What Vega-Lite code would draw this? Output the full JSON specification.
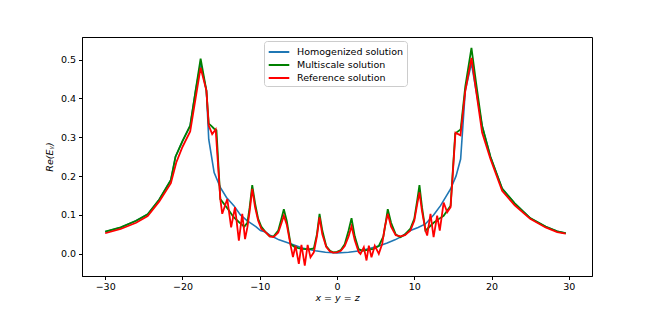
{
  "$schema": "https://vega.github.io/schema/vega-lite/v6.json",
  "width": 510,
  "height": 239,
  "autosize": {"type": "none"},
  "padding": {"left": 82, "top": 37, "right": 62, "bottom": 35},
  "background": "white",
  "config": {
    "view": {"stroke": "black", "strokeWidth": 1},
    "font": "DejaVu Sans",
    "axis": {"grid": false, "domainColor": "black", "tickColor": "black", "tickSize": 3.5, "labelFontSize": 9.5, "labelColor": "black", "titleFontSize": 9.5, "titleFontWeight": "normal", "titleColor": "black", "labelFont": "DejaVu Sans", "titleFont": "DejaVu Sans"}
  },
  "datasets": {
    "H": [[-30,0.057],[-28,0.068],[-26,0.085],[-24.5,0.102],[-23,0.14],[-21.5,0.19],[-20.9,0.25],[-20,0.29],[-19,0.33],[-18.3,0.42],[-17.65,0.49],[-16.9,0.42],[-16.6,0.295],[-15.9,0.209],[-15.1,0.171],[-14.3,0.145],[-13.35,0.124],[-12.5,0.1],[-11.6,0.085],[-10.5,0.07],[-9.9,0.06],[-9.25,0.056],[-8.6,0.047],[-7.5,0.036],[-6,0.026],[-4.5,0.015],[-2.8,0.008],[-1.5,0.004],[0,0.002],[1.5,0.004],[3,0.008],[4.2,0.014],[5.4,0.02],[6.5,0.028],[7.5,0.036],[8.2,0.043],[9.5,0.06],[10.5,0.068],[11.45,0.077],[12.5,0.1],[13.4,0.124],[14.7,0.167],[15.4,0.2],[16,0.244],[16.6,0.42],[17.4,0.49],[18,0.42],[18.78,0.33],[19.86,0.25],[21.37,0.168],[23,0.13],[25,0.092],[27,0.07],[28.5,0.058],[29.6,0.053]],
    "M": [[-30,0.057],[-28,0.068],[-26,0.085],[-24.5,0.102],[-23,0.14],[-21.5,0.19],[-20.9,0.25],[-20,0.29],[-19,0.33],[-18.3,0.42],[-17.65,0.502],[-16.9,0.42],[-16.6,0.335],[-16.3,0.33],[-15.9,0.322],[-15.6,0.318],[-15.1,0.141],[-14.6,0.128],[-14,0.112],[-13.4,0.095],[-12.7,0.082],[-12,0.07],[-11.6,0.08],[-11.3,0.12],[-10.97,0.177],[-10.6,0.13],[-10.2,0.09],[-9.8,0.07],[-9.25,0.056],[-8.7,0.045],[-8.2,0.045],[-7.6,0.06],[-7.2,0.09],[-6.88,0.115],[-6.5,0.085],[-6,0.025],[-5.5,0.018],[-5,0.015],[-4.5,0.013],[-4,0.012],[-3.5,0.012],[-3,0.014],[-2.6,0.05],[-2.26,0.103],[-1.9,0.06],[-1.4,0.02],[-0.9,0.008],[-0.5,0.004],[0,0.005],[0.5,0.01],[1,0.025],[1.5,0.06],[1.88,0.092],[2.3,0.045],[2.8,0.012],[3.3,0.008],[4,0.01],[4.7,0.013],[5.4,0.02],[6,0.045],[6.3,0.08],[6.57,0.115],[7,0.08],[7.6,0.05],[8.2,0.043],[8.8,0.05],[9.5,0.065],[10,0.09],[10.4,0.14],[10.67,0.177],[11,0.12],[11.45,0.06],[11.67,0.064],[12.5,0.08],[13.2,0.09],[13.8,0.098],[14.7,0.124],[15.3,0.31],[16,0.32],[16.6,0.43],[17.4,0.53],[18,0.44],[18.78,0.329],[19.86,0.25],[21.37,0.168],[23,0.13],[25,0.092],[27,0.07],[28.5,0.058],[29.6,0.053]],
    "R": [[-30,0.053],[-28,0.064],[-26,0.08],[-24.5,0.097],[-23,0.135],[-21.5,0.182],[-20.8,0.235],[-20,0.275],[-19,0.315],[-18.3,0.4],[-17.65,0.479],[-16.9,0.42],[-16.6,0.33],[-16.15,0.308],[-15.7,0.32],[-15.1,0.141],[-14.85,0.103],[-14.2,0.141],[-13.7,0.068],[-13.2,0.12],[-12.7,0.034],[-12.26,0.103],[-11.9,0.038],[-11.6,0.068],[-11.3,0.11],[-10.97,0.167],[-10.6,0.12],[-10.2,0.085],[-9.8,0.065],[-9.25,0.056],[-8.7,0.045],[-8.2,0.043],[-7.6,0.055],[-7.2,0.078],[-6.88,0.098],[-6.5,0.075],[-6,0.021],[-5.7,-0.008],[-5.37,0.021],[-4.94,-0.026],[-4.6,0.023],[-4.17,-0.03],[-3.8,0.023],[-3.43,-0.009],[-3,0.004],[-2.6,0.045],[-2.26,0.094],[-1.9,0.05],[-1.4,0.018],[-0.9,0.006],[-0.5,0.003],[0,0.004],[0.5,0.008],[1,0.02],[1.5,0.045],[1.88,0.071],[2.3,0.035],[2.8,0.005],[3.04,0],[3.47,0.017],[3.82,-0.017],[4.12,0.021],[4.46,-0.009],[4.89,0.021],[5.41,0],[5.85,0.026],[6.2,0.07],[6.57,0.103],[7,0.07],[7.6,0.048],[8.2,0.045],[8.8,0.048],[9.5,0.06],[10,0.085],[10.4,0.13],[10.67,0.158],[11,0.11],[11.45,0.06],[11.67,0.047],[12.1,0.103],[12.5,0.043],[12.96,0.098],[13.3,0.06],[13.8,0.132],[14.26,0.107],[14.7,0.12],[15.33,0.312],[15.98,0.305],[16.6,0.419],[17.4,0.504],[18,0.42],[18.78,0.312],[19.86,0.244],[21.37,0.162],[23,0.125],[25,0.09],[27,0.068],[28.5,0.056],[29.6,0.052]]
  },
  "encoding": {
    "x": {"field": "0", "type": "quantitative", "scale": {"domain": [-33, 33], "nice": false, "zero": false},
      "axis": {"values": [-30, -20, -10, 0, 10, 20, 30], "title": "x = y = z", "titleFontStyle": "italic", "labelPadding": 1.5, "titlePadding": 2}},
    "y": {"field": "1", "type": "quantitative", "scale": {"domain": [-0.057, 0.558], "nice": false, "zero": false},
      "axis": {"values": [0, 0.1, 0.2, 0.3, 0.4, 0.5], "format": ".1f", "title": "Re(Eᵧ)", "titleFontStyle": "italic", "labelPadding": 3, "titlePadding": 6}},
    "color": {"datum": "Homogenized solution", "type": "nominal",
      "scale": {"domain": ["Homogenized solution", "Multiscale solution", "Reference solution"], "range": ["#1f77b4", "#008000", "#ff0000"]},
      "legend": {"title": null, "orient": "none", "legendX": 182, "legendY": 4, "symbolType": "M-1.47,0H1.47", "symbolSize": 196, "symbolStrokeWidth": 2, "symbolOffset": 4, "labelFontSize": 9.5, "labelFont": "DejaVu Sans", "labelColor": "black", "labelOffset": 10, "rowPadding": 0, "padding": 3, "strokeColor": "#cccccc", "fillColor": "white", "cornerRadius": 3}}
  },
  "layer": [
    {"data": {"name": "H"}, "mark": {"type": "line", "strokeWidth": 1.6}, "encoding": {"color": {"datum": "Homogenized solution"}}},
    {"data": {"name": "M"}, "mark": {"type": "line", "strokeWidth": 1.8}, "encoding": {"color": {"datum": "Multiscale solution"}}},
    {"data": {"name": "R"}, "mark": {"type": "line", "strokeWidth": 1.8}, "encoding": {"color": {"datum": "Reference solution"}}}
  ]
}
